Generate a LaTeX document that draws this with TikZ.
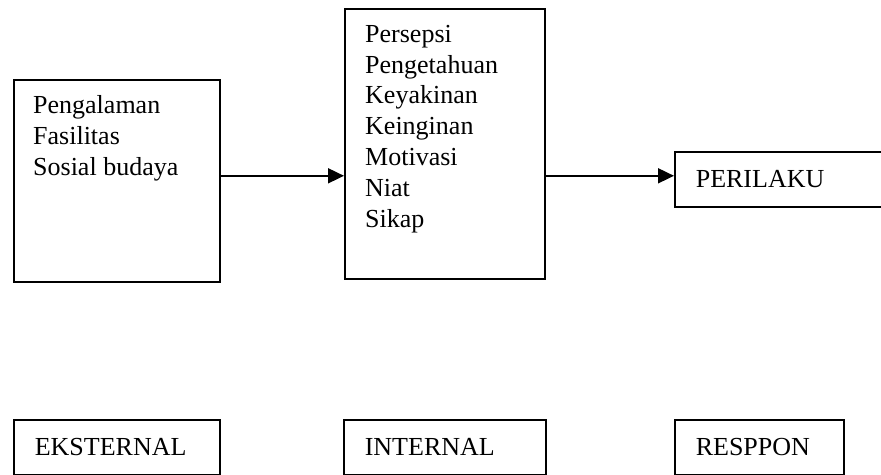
\documentclass[tikz,border=0pt]{standalone}
\usepackage{fontspec}
\setmainfont{Liberation Serif}
\usetikzlibrary{arrows.meta,positioning,calc}
\tikzset{
  box_n/.style = {draw=black, line width=1.6pt, inner sep=0pt, anchor=north west},
  list_t/.style = {align=left, inner sep=0pt, anchor=base west, font=\fontsize{26}{30.8}\selectfont},
  tag_n/.style = {draw=black, line width=1.6pt, anchor=north west, inner xsep=21pt, inner ysep=0pt,
                  align=left, minimum height=55pt, font=\fontsize{26}{30.8}\selectfont},
  arr_n/.style = {line width=1.8pt, -{Triangle[length=16pt,width=15pt]}}
}

\begin{document}
\begin{tikzpicture}[x=1pt, y=-1pt]
	\useasboundingbox (0,0) rectangle (881,474);
	\clip (0,0) rectangle (881,474);
	% kotak atas
	\node [box_n, minimum width=206pt, minimum height=202pt] (ext) at (13,79) {};
	\node [box_n, minimum width=200pt, minimum height=270pt] (int) at (344,8) {};
	\node [tag_n, text width=178pt] (perilaku) at (674,151) {PERILAKU};
	% teks dalam kotak (base = baris terakhir)
	\node [list_t] (extlist) at (33,175) {Pengalaman\\Fasilitas\\Sosial budaya};
	\node [list_t] (intlist) at (365,227) {Persepsi\\Pengetahuan\\Keyakinan\\Keinginan\\Motivasi\\Niat\\Sikap};
	% panah
	\coordinate (a1) at ([yshift=5pt]ext.east);
	\draw [arr_n] (a1) -- (a1 -| int.west);
	\draw [arr_n] (a1 -| int.east) -- (a1 -| perilaku.west);
	% kotak bawah
	\node [tag_n, text width=164pt] (eksternal) at (13,419) {EKSTERNAL};
	\node [tag_n, text width=160pt] (internal) at (343,419) {INTERNAL};
	\node [tag_n, text width=127pt] (respon) at (674,419) {RESPPON};
\end{tikzpicture}
\end{document}
